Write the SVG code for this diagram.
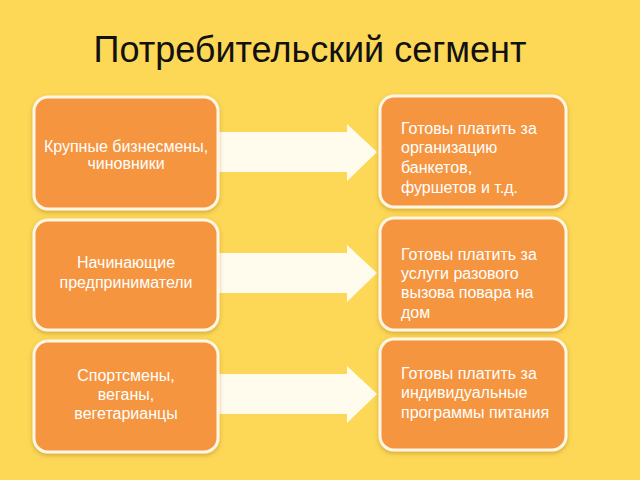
<svg xmlns="http://www.w3.org/2000/svg" width="640" height="480" viewBox="0 0 640 480">
<defs>
<style>
.box{fill:#F59540;stroke:#FFF6E4;stroke-width:3}
.arrow{fill:#FFFCEE}
.t{font-family:"Liberation Sans",Arial,sans-serif;font-size:16px;fill:#FFFFFF}
.c{text-anchor:middle}
.title{font-family:"Liberation Sans",Arial,sans-serif;font-size:36px;fill:#111111;text-anchor:middle}
</style>
<filter id="sh" x="-10%" y="-10%" width="120%" height="125%">
<feDropShadow dx="0" dy="2" stdDeviation="2" flood-color="#8a5a00" flood-opacity="0.35"/>
</filter>
</defs>
<rect width="640" height="480" fill="#FDD756"/>
<text class="title" x="310" y="62">Потребительский сегмент</text>
<g id="connectors">
<path class="arrow" d="M214,132 H347 V124 L377,152 L347,181 V172 H214 Z"/>
<path class="arrow" d="M214,253 H347 V245 L377,273 L347,302 V293 H214 Z"/>
<path class="arrow" d="M214,374 H347 V366 L377,394 L347,423 V414 H214 Z"/>
</g>
<g id="n1"><rect class="box" filter="url(#sh)" x="34" y="97" width="184" height="112" rx="14"/>
<text class="t c" x="126" y="152">Крупные бизнесмены,</text><text class="t c" x="126" y="169">чиновники</text></g>
<g id="n2"><rect class="box" filter="url(#sh)" x="34" y="220" width="184" height="110" rx="14"/>
<text class="t c" x="126" y="268">Начинающие</text><text class="t c" x="126" y="288">предприниматели</text></g>
<g id="n3"><rect class="box" filter="url(#sh)" x="34" y="341" width="184" height="111" rx="14"/>
<text class="t c" x="126" y="381">Спортсмены,</text><text class="t c" x="126" y="400">веганы,</text><text class="t c" x="126" y="419">вегетарианцы</text></g>
<g id="n4"><rect class="box" filter="url(#sh)" x="380" y="96" width="186" height="111" rx="14"/>
<g class="t"><text x="401" y="134">Готовы платить за</text><text x="401" y="153">организацию</text><text x="401" y="173">банкетов,</text><text x="401" y="193">фуршетов и т.д.</text></g></g>
<g id="n5"><rect class="box" filter="url(#sh)" x="380" y="218" width="186" height="112" rx="14"/>
<g class="t"><text x="401" y="260">Готовы платить за</text><text x="401" y="279">услуги разового</text><text x="401" y="298">вызова повара на</text><text x="401" y="318">дом</text></g></g>
<g id="n6"><rect class="box" filter="url(#sh)" x="380" y="339" width="186" height="111" rx="14"/>
<g class="t"><text x="401" y="379">Готовы платить за</text><text x="401" y="398">индивидуальные</text><text x="401" y="418">программы питания</text></g></g>
</svg>
